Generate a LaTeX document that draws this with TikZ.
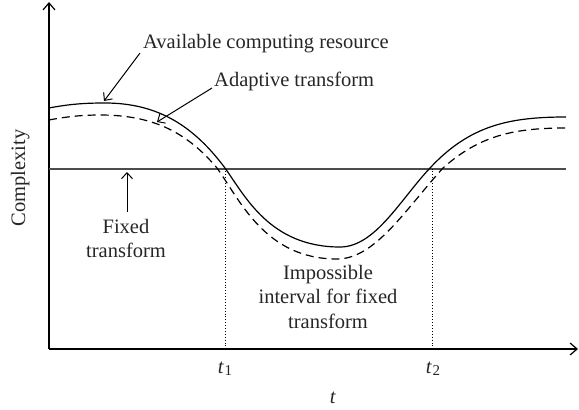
\documentclass[tikz,border=0pt]{standalone}
\usepackage{fontspec}
\setmainfont{Liberation Serif}
\usetikzlibrary{arrows.meta}
\begin{document}
\begin{tikzpicture}[x=1pt,y=-1pt,
  lbl/.style={font=\fontsize{20.5}{24.5}\selectfont, inner sep=0pt, text=black!85},
  axisline/.style={line width=1.4pt, -{Straight Barb[length=7pt,width=12pt,line width=1.2pt]}},
  pointer/.style={line width=1pt, -{Straight Barb[length=6pt,width=11pt,line width=1pt]}},
  curve/.style={line width=1.2pt},
  dcurve/.style={line width=1.2pt, dash pattern=on 8pt off 5pt},
  fixedline/.style={line width=2pt, black!70},
  guide/.style={line width=0.9pt, dotted}]
\useasboundingbox (0,0) rectangle (579,410);
% axes
\coordinate (O) at (49,349);
\coordinate (ytop) at (49,2);
\coordinate (xend) at (578,349);
\draw[axisline] (O) -- (ytop);
\draw[axisline] (O) -- (xend);
% fixed transform line
\coordinate (f0) at (49,168.5);
\coordinate (f1) at (566,168.5);
\draw[fixedline] (f0) -- (f1);
% guides
\coordinate (g1t) at (225,168.5);
\coordinate (g1b) at (225,348);
\coordinate (g2t) at (432,168.5);
\coordinate (g2b) at (432,348);
\draw[guide] (g1t) -- (g1b);
\draw[guide] (g2t) -- (g2b);
% solid curve
\draw[curve] (49,108) .. controls (70,104) and (85,103) .. (105,103)
  .. controls (160,103) and (195,128) .. (225,168)
  .. controls (245,196) and (270,247) .. (340,247)
  .. controls (375,247) and (400,200) .. (430,168)
  .. controls (470,125) and (510,117) .. (566,117);
% dashed curve
\draw[dcurve] (49,120) .. controls (70,116) and (85,115) .. (100,115)
  .. controls (150,115) and (185,130) .. (217,168)
  .. controls (240,200) and (265,259) .. (337,259)
  .. controls (375,259) and (405,210) .. (443,168)
  .. controls (480,135) and (515,128) .. (566,128);
% labels
\node[lbl, anchor=base west] (avail) at (143,48) {Available computing resource};
\node[lbl, anchor=base west] (adapt) at (214,86) {Adaptive transform};
\node[lbl, anchor=north, align=center] (fixed) at (126,219) {Fixed\\transform};
\node[lbl, anchor=north, align=center] (imp) at (328,265) {Impossible\\interval for fixed\\transform};
\node[lbl, anchor=base, rotate=90] (cplx) at (25,178) {Complexity};
\node[lbl, anchor=base] (t1) at (225,373) {\textit{t}\kern0.5pt\raisebox{-0.3ex}{\fontsize{15}{17}\selectfont 1}};
\node[lbl, anchor=base] (t2) at (433,373) {\textit{t}\kern0.5pt\raisebox{-0.3ex}{\fontsize{15}{17}\selectfont 2}};
\node[lbl, anchor=base] (tt) at (333,403) {\textit{t}};
% pointers
\coordinate (pa) at (104,101);
\coordinate (pb) at (157,122);
\coordinate (pc) at (127,172);
\draw[pointer] (140,53) -- (pa);
\draw[pointer] (212,88) -- (pb);
\draw[pointer] (fixed.north) ++(1,-7) -- (pc);
\end{tikzpicture}
\end{document}
